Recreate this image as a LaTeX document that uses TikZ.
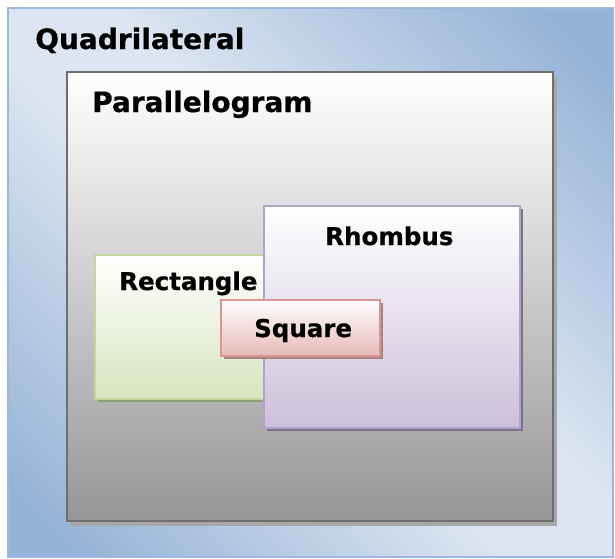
\documentclass[tikz,border=0pt]{standalone}
\usepackage{fontspec}
\setmainfont{DejaVu Sans}[BoldFeatures={FakeBold=0.6}]
\usetikzlibrary{shadows}
\definecolor{qblue}{RGB}{149,179,215}
\definecolor{qlight}{RGB}{220,229,241}
\definecolor{qborder}{RGB}{155,185,222}
\definecolor{pborder}{RGB}{110,110,110}
\definecolor{pbottom}{RGB}{150,150,150}
\definecolor{pshadow}{RGB}{168,168,168}
\definecolor{rbottom}{RGB}{215,228,189}
\definecolor{rborder}{RGB}{195,214,155}
\definecolor{rshadow}{RGB}{140,158,115}
\definecolor{hbottom}{RGB}{204,192,218}
\definecolor{hborder}{RGB}{179,162,199}
\definecolor{hshadow}{RGB}{122,115,135}
\definecolor{sbottom}{RGB}{230,185,184}
\definecolor{sborder}{RGB}{217,150,148}
\definecolor{sshadow}{RGB}{170,130,128}
\pgfdeclareverticalshading{quadshade}{100bp}{color(0bp)=(qblue); color(19bp)=(qblue); color(45bp)=(qlight); color(55bp)=(qlight); color(81bp)=(qblue); color(100bp)=(qblue)}
\begin{document}
\begin{tikzpicture}[x=1pt,y=-1pt,
  box/.style={rectangle, anchor=north west, inner sep=0pt, outer sep=0pt},
  biglabel/.style={anchor=base west, inner sep=0pt, font=\fontsize{28}{30}\selectfont\bfseries},
  smalllabel/.style={anchor=base west, inner sep=0pt, font=\fontsize{24.5}{27}\selectfont\bfseries}]
\useasboundingbox (0,0) rectangle (615,558);
\fill[white] (0,0) rectangle (615,558);
% Quadrilateral
\node[box, draw=qborder, line width=1.2pt, minimum width=605pt, minimum height=549pt,
  shading=quadshade, shading angle=-45] (quad) at (8,8) {};
\node[biglabel] (quadlabel) at (35,49) {Quadrilateral};
% Parallelogram
\node[box, draw=pborder, line width=2pt, minimum width=486pt, minimum height=449pt,
  top color=white, bottom color=pbottom,
  drop shadow={shadow xshift=4pt, shadow yshift=-5pt, fill=pshadow, opacity=1}] (para) at (67,72) {};
\node[biglabel] (paralabel) at (92,112) {Parallelogram};
% Rectangle
\node[box, draw=rborder, line width=2pt, minimum width=190pt, minimum height=144pt,
  top color=white, bottom color=rbottom,
  drop shadow={shadow xshift=3pt, shadow yshift=-3pt, fill=rshadow, opacity=1}] (rect) at (95,255) {};
\node[smalllabel] (rectlabel) at (119,290) {Rectangle};
% Rhombus
\node[box, draw=hborder, line width=2pt, minimum width=256pt, minimum height=222pt,
  top color=white, bottom color=hbottom,
  drop shadow={shadow xshift=3pt, shadow yshift=-3pt, fill=hshadow, opacity=1}] (rhomb) at (264,206) {};
\node[smalllabel] (rhomblabel) at (325,245) {Rhombus};
% Square
\node[box, draw=sborder, line width=2pt, minimum width=159pt, minimum height=56pt,
  top color=white, bottom color=sbottom,
  drop shadow={shadow xshift=3pt, shadow yshift=-3pt, fill=sshadow, opacity=1}] (sq) at (221,300) {};
\node[smalllabel] (sqlabel) at (254,337) {Square};
\end{tikzpicture}
\end{document}
